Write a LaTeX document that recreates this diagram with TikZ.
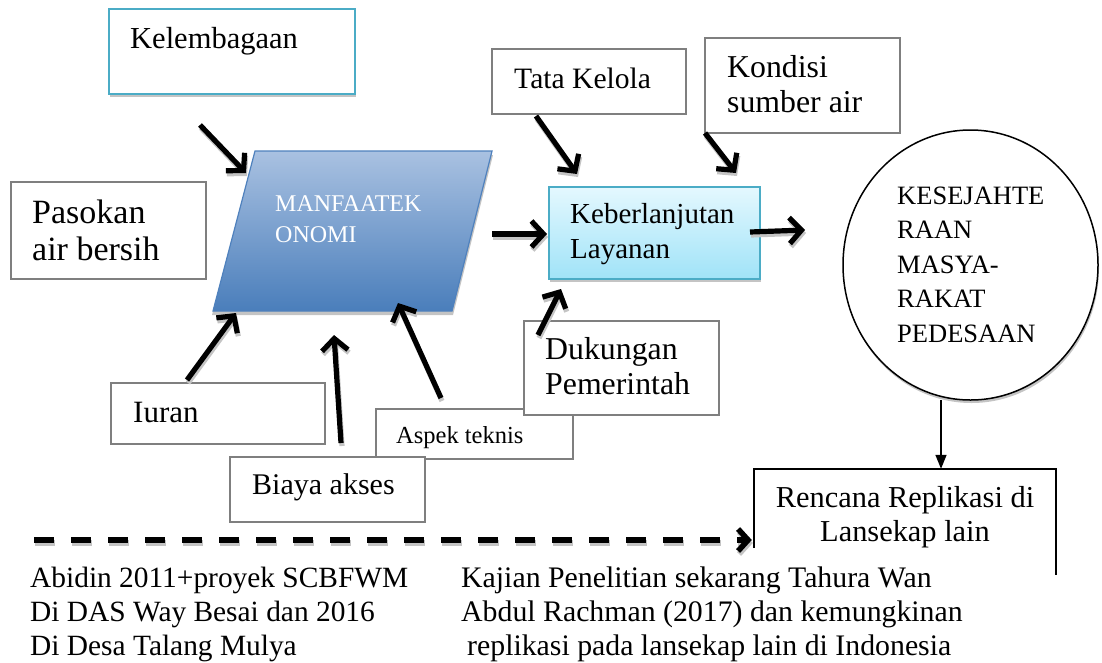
\documentclass[tikz,border=0pt]{standalone}
\usepackage{fontspec}
\setmainfont{Liberation Serif}
\usetikzlibrary{arrows.meta,shapes.geometric,shadows}
\definecolor{teal1}{HTML}{4BACC6}
\definecolor{gray1}{HTML}{7F7F7F}
\definecolor{bluetop}{HTML}{A9C1E1}
\definecolor{bluebot}{HTML}{4A7EBB}
\definecolor{blueline}{HTML}{4F81BD}
\definecolor{cyantop}{HTML}{E4F8FE}
\definecolor{cyanbot}{HTML}{A0E3F8}
\definecolor{shad}{HTML}{C4C4C4}
\newcommand{\fsz}[2]{\fontsize{#1}{#2}\selectfont}
\newcommand{\bigarr}[2]{%
  \draw[bigarrow, draw=shad] ([shift={(1pt,-3pt)}]#1) -- ([shift={(1pt,-3pt)}]#2);
  \draw[bigarrow] (#1) -- (#2);}
\begin{document}
\begin{tikzpicture}[x=1pt,y=-1pt,
  graybox/.style={draw=gray1, line width=1.5pt, fill=white, inner sep=0pt},
  tealbox/.style={draw=teal1, line width=1.5pt, fill=white, inner sep=0pt},
  lbl/.style={anchor=base west, inner sep=0pt, align=left},
  boxshadow/.style={drop shadow={shadow xshift=1pt, shadow yshift=-3pt, fill=shad, opacity=1}},
  bigarrow/.style={line width=5.2pt, -{Straight Barb[length=12pt,width=26pt,line width=5.2pt]}},
  dasharrow/.style={line width=6pt, dash pattern=on 20pt off 17pt, -{Straight Barb[length=10pt,width=22pt,line width=5.5pt]}},
  thinarrow/.style={line width=1.5pt, -{Triangle[length=14pt,width=11pt]}},
]
\useasboundingbox (0,0) rectangle (1102,662);

% boxes
\node[tealbox, boxshadow, minimum width=246pt, minimum height=85pt] (kel) at (232,51.5) {};
\node[graybox, minimum width=195pt, minimum height=97pt] (pas) at (108.5,230.5) {};
\node[graybox, minimum width=194pt, minimum height=65pt] (tata) at (589,81.5) {};
\node[graybox, minimum width=195pt, minimum height=95pt] (kond) at (802.5,85.5) {};
\node[draw=teal1, line width=1.5pt, top color=cyantop, bottom color=cyanbot, boxshadow,
      minimum width=211pt, minimum height=92pt, inner sep=0pt] (keb) at (654.5,233) {};
\node[ellipse, draw, line width=1.5pt, fill=white, boxshadow,
      minimum width=255pt, minimum height=270pt, inner sep=0pt] (ell) at (970.5,265) {};
\node[graybox, minimum width=197pt, minimum height=50pt] (asp) at (474.5,434) {};
\node[graybox, minimum width=195pt, minimum height=94pt] (duk) at (621.5,368) {};
\node[graybox, minimum width=214pt, minimum height=61pt] (iur) at (218,413.5) {};
\node[graybox, minimum width=195pt, minimum height=65pt] (bia) at (327.5,489.5) {};
\node[inner sep=0pt, minimum width=302pt, minimum height=79pt] (ren) at (905,508.5) {};
\draw[line width=1.5pt] (ren.south west) -- (ren.north west) -- (ren.north east) -- ([yshift=-27pt]ren.south east);

% parallelogram (with its shadow)
\fill[shad] (254,155) -- (493,155) -- (453,315) -- (212,315) -- cycle;
\shade[top color=bluetop, bottom color=bluebot, draw=blueline, line width=1.2pt]
  (255,151) -- (492,151) -- (452,311) -- (213,311) -- cycle;
\coordinate (para) at (352,231);

% texts (base = baseline of the last line)
\node[lbl, font=\fsz{30.5}{35}] (tkel) at (130,48) {Kelembagaan};
\node[lbl, font=\fsz{34}{37}] (tpas) at (32,260) {Pasokan\\air bersih};
\node[lbl, font=\fsz{24}{31}, text=white] (tpara) at (275,242) {MANFAATEK\\ONOMI};
\node[lbl, font=\fsz{29.6}{35}] (ttata) at (514,88) {Tata Kelola};
\node[lbl, font=\fsz{31.8}{35}] (tkond) at (727,112) {Kondisi\\sumber air};
\node[lbl, font=\fsz{29}{35}] (tkeb) at (570,258) {Keberlanjutan\\Layanan};
\node[lbl, font=\fsz{26.5}{34.5}] (tell) at (897,342) {KESEJAHTE\\RAAN\\MASYA-\\RAKAT\\PEDESAAN};
\node[lbl, font=\fsz{31.8}{35}] (tduk) at (545,394) {Dukungan\\Pemerintah};
\node[lbl, font=\fsz{24.5}{30}] (tasp) at (396,443) {Aspek teknis};
\node[lbl, font=\fsz{31}{35}] (tiur) at (133,422) {Iuran};
\node[lbl, font=\fsz{30}{35}] (tbia) at (252,494) {Biaya akses};
\node[anchor=base, inner sep=0pt, align=center, font=\fsz{30.4}{34}] (tren) at (905,541) {Rencana Replikasi di\\Lansekap lain};
\node[lbl, font=\fsz{29.4}{34}] (tleft) at (30,655) {Abidin 2011+proyek SCBFWM\\Di DAS Way Besai dan 2016\\Di Desa Talang Mulya};
\node[lbl, font=\fsz{29.8}{34}] (tright) at (461,655) {Kajian Penelitian sekarang Tahura Wan\\Abdul Rachman (2017) dan kemungkinan\\\hspace*{6pt}replikasi pada lansekap lain di Indonesia};

% arrow end points
\coordinate (a1s) at (200,125);  \coordinate (a1e) at (246,173);
\coordinate (a2s) at (536,116);  \coordinate (a2e) at (577,174);
\coordinate (a3s) at (705,133);  \coordinate (a3e) at (736,173);
\coordinate (a4s) at (492,234);  \coordinate (a4e) at (547,234);
\coordinate (a5s) at (750,232);  \coordinate (a5e) at (805,230);
\coordinate (a6s) at (187,380);  \coordinate (a6e) at (236,313);
\coordinate (a7s) at (341,443);  \coordinate (a7e) at (334,335);
\coordinate (a8s) at (441,398);  \coordinate (a8e) at (398,303);
\coordinate (a9s) at (538,335);  \coordinate (a9e) at (561,289);
\coordinate (e1) at (941,400);
\coordinate (d0) at (34,540);

\bigarr{a1s}{a1e}
\bigarr{a2s}{a2e}
\bigarr{a3s}{a3e}
\bigarr{a4s}{a4e}
\bigarr{a5s}{a5e}
\bigarr{a6s}{a6e}
\bigarr{a7s}{a7e}
\bigarr{a8s}{a8e}
\bigarr{a9s}{a9e}
\draw[thinarrow] (e1) -- (e1 |- ren.north);
\draw[dasharrow, draw=shad] ([shift={(1pt,-3pt)}]d0) -- ([shift={(-1pt,-3pt)}]d0 -| ren.west);
\draw[dasharrow] (d0) -- ([xshift=-2pt]d0 -| ren.west);
\end{tikzpicture}
\end{document}
